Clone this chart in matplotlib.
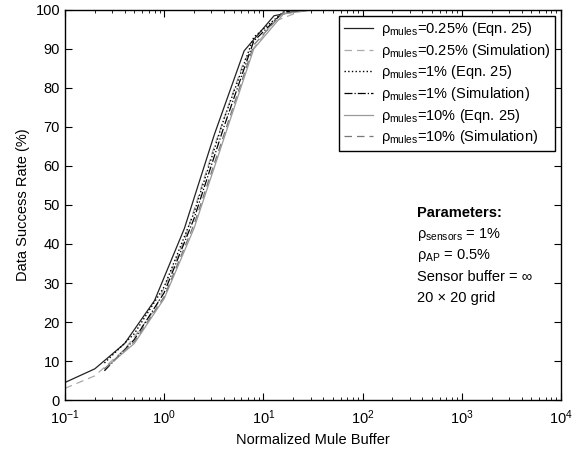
import matplotlib
matplotlib.use("Agg")
import matplotlib.pyplot as plt
import numpy as np

plt.rcParams['font.family'] = ['Liberation Sans', 'DejaVu Sans']
plt.rcParams['mathtext.fontset'] = 'custom'
plt.rcParams['mathtext.rm'] = 'Liberation Sans'
plt.rcParams['mathtext.it'] = 'Liberation Sans'
plt.rcParams['mathtext.bf'] = 'Liberation Sans:bold'

# buffer sizes (normalized)
x_025 = [0.1, 0.2, 0.4, 0.8, 1.6, 3.2, 6.4, 12.8, 25.6, 10000]
x_rest = [0.25, 0.5, 1, 2, 4, 8, 16, 32, 10000]

# success rate (%)
eqn_025 = [4.5, 8, 14.5, 25.5, 44, 68, 89.5, 98.5, 100, 100]
sim_025 = [3, 6.2, 13, 23, 41, 65, 87, 97, 100, 100]
eqn_1 = [9.5, 17, 29, 48, 72, 93, 99.5, 100, 100]
sim_1 = [7.5, 15.5, 27.5, 46.5, 70, 92, 99.5, 100, 100]
eqn_10 = [8, 14.5, 26, 44, 67, 90, 99, 100, 100]
sim_10 = [8, 15, 26.5, 45, 68, 91, 99.5, 100, 100]

labels = [
    'ρ$_{\\mathrm{mules}}$=0.25% (Eqn. 25)',
    'ρ$_{\\mathrm{mules}}$=0.25% (Simulation)',
    'ρ$_{\\mathrm{mules}}$=1% (Eqn. 25)',
    'ρ$_{\\mathrm{mules}}$=1% (Simulation)',
    'ρ$_{\\mathrm{mules}}$=10% (Eqn. 25)',
    'ρ$_{\\mathrm{mules}}$=10% (Simulation)',
]

params = [
    'ρ$_{\\mathrm{sensors}}$ = 1%',
    'ρ$_{\\mathrm{AP}}$ = 0.5%',
    'Sensor buffer = ∞',
    '20 × 20 grid',
]

fig = plt.figure(figsize=(5.85, 4.5), dpi=100)
ax = fig.add_axes([0.111, 0.111, 0.848, 0.867])

ax.plot(x_025, eqn_025, '-', color='#222222', lw=0.9, label=labels[0])
ax.plot(x_025, sim_025, '--', color='#aaaaaa', lw=0.9, dashes=(6, 4), label=labels[1])
ax.plot(x_rest, eqn_1, ':', color='black', lw=1.0, label=labels[2])
ax.plot(x_rest, sim_1, '-.', color='black', lw=0.9, label=labels[3])
ax.plot(x_rest, eqn_10, '-', color='#999999', lw=0.9, label=labels[4])
ax.plot(x_rest, sim_10, '--', color='#777777', lw=0.9, dashes=(6, 4), label=labels[5])

ax.set_xscale('log')
ax.set_xlim(0.1, 1e4)
ax.set_ylim(0, 100)
ax.set_yticks(np.arange(0, 101, 10))
ax.tick_params(which='both', direction='in', top=True, right=True, labelsize=10.5)
ax.tick_params(which='major', length=5)
ax.tick_params(which='minor', length=2.5)
ax.tick_params(axis='x', pad=6)
for s in ax.spines.values():
    s.set_linewidth(1.0)

ax.set_xlabel('Normalized Mule Buffer', fontsize=10.5)
ax.set_ylabel('Data Success Rate (%)', fontsize=10.5)

leg = ax.legend(loc='upper right', fontsize=10.5, fancybox=False, framealpha=1,
                edgecolor='black', handlelength=2.0, borderaxespad=0.4,
                labelspacing=0.25, handletextpad=0.6, borderpad=0.3)
leg.get_frame().set_linewidth(1.0)

ax.text(0.71, 0.48, 'Parameters:', transform=ax.transAxes, fontsize=10.5,
        fontweight='bold', va='center')
for i, line in enumerate(params):
    ax.text(0.71, 0.425 - i * 0.0545, line, transform=ax.transAxes,
            fontsize=10.5, va='center')

fig.savefig('out.png', dpi=100)
